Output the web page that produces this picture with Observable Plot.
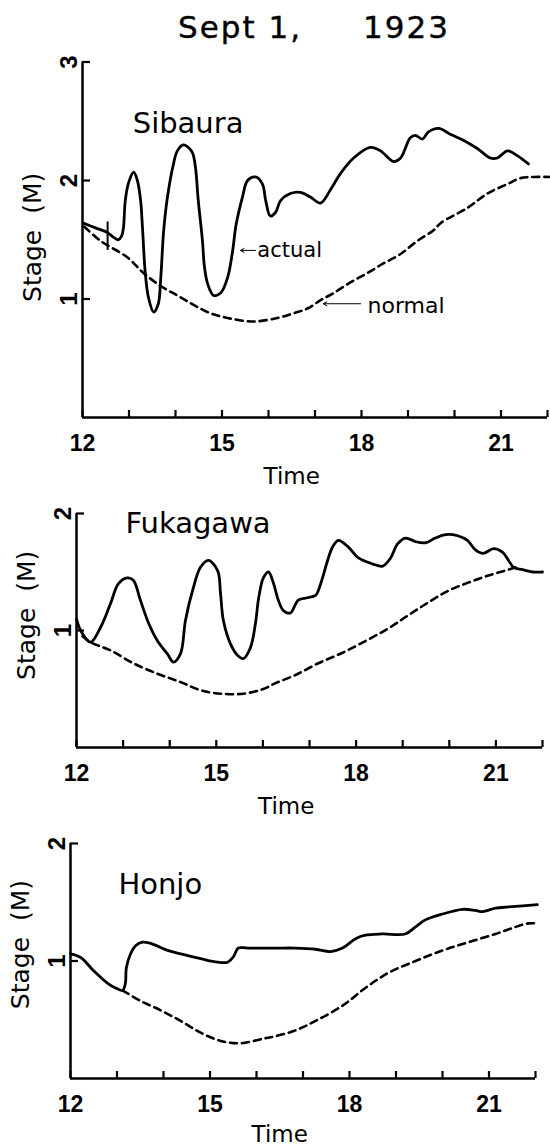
<!DOCTYPE html>
<html><head><meta charset="utf-8">
<script src="https://cdn.jsdelivr.net/npm/d3@7"></script>
<script src="https://cdn.jsdelivr.net/npm/@observablehq/plot@0.6"></script>
<style>
html,body{margin:0;padding:0;background:#fff;}
#root{position:relative;width:550px;height:1148px;overflow:hidden;font-family:"DejaVu Sans";color:#000;}
.title{position:absolute;top:12px;font-size:31px;line-height:31px;letter-spacing:2px;white-space:pre;-webkit-text-stroke:0.4px #000;}
.panel{position:absolute;left:0;}
</style></head><body><div id="root"></div>
<script>
// ---- data (time in hours, stage in metres) ----
const titleParts = ["Sept 1,", "1923"];
const hourTicks = [12, 13, 14, 15, 16, 17, 18, 19, 20, 21, 22];
const timeLabels = [12, 15, 18, 21];
const sibauraYTicks = [1, 2, 3];
const lowerYTicks = [1, 2];
const stations = ["Sibaura", "Fukagawa", "Honjo"];
const annotations = ["actual", "normal"];

const sibauraActual = [[12.02,1.64],[12.28,1.60],[12.54,1.56],[12.67,1.52],[12.77,1.50],[12.84,1.53],[12.88,1.60],[12.92,1.83],[12.99,1.98],[13.10,2.07],[13.18,2.00],[13.25,1.83],[13.29,1.60],[13.35,1.22],[13.42,1.01],[13.53,0.89],[13.63,0.96],[13.68,1.16],[13.74,1.55],[13.79,1.75],[13.85,1.92],[13.94,2.11],[14.04,2.25],[14.17,2.30],[14.30,2.27],[14.37,2.23],[14.43,2.11],[14.49,1.83],[14.58,1.49],[14.62,1.28],[14.69,1.13],[14.82,1.03],[14.97,1.05],[15.12,1.18],[15.23,1.41],[15.30,1.62],[15.44,1.86],[15.55,2.00],[15.72,2.03],[15.87,1.97],[15.94,1.83],[16.04,1.70],[16.15,1.73],[16.26,1.83],[16.47,1.89],[16.69,1.90],[16.90,1.86],[17.12,1.81],[17.33,1.92],[17.55,2.06],[17.83,2.19],[18.19,2.28],[18.41,2.25],[18.69,2.16],[18.84,2.19],[19.05,2.36],[19.16,2.38],[19.31,2.35],[19.44,2.41],[19.66,2.44],[19.91,2.39],[20.19,2.34],[20.49,2.27],[20.77,2.19],[20.92,2.19],[21.14,2.25],[21.35,2.21],[21.59,2.14]];
const sibauraNormal = [[12.04,1.61],[12.39,1.49],[12.97,1.35],[13.31,1.22],[13.68,1.11],[14.04,1.03],[14.39,0.95],[14.75,0.88],[15.12,0.84],[15.66,0.81],[16.19,0.84],[16.54,0.88],[16.84,0.92],[17.12,0.99],[17.40,1.05],[17.76,1.14],[18.13,1.22],[18.47,1.30],[18.84,1.38],[19.20,1.49],[19.55,1.58],[19.70,1.64],[20.28,1.77],[20.71,1.89],[21.14,1.97],[21.42,2.02],[21.70,2.03],[22.06,2.03]];
const sibauraMarker = [[12.54, 1.41, 1.65]];

const fukagawaActual = [[12.00,1.10],[12.09,1.00],[12.30,0.90],[12.52,1.03],[12.73,1.23],[12.90,1.40],[13.09,1.45],[13.22,1.43],[13.37,1.26],[13.55,1.06],[13.74,0.91],[13.95,0.80],[14.08,0.73],[14.23,0.80],[14.34,1.09],[14.49,1.34],[14.66,1.54],[14.83,1.60],[15.03,1.51],[15.09,1.32],[15.15,1.09],[15.30,0.89],[15.45,0.79],[15.58,0.76],[15.73,0.85],[15.84,1.06],[15.91,1.28],[16.01,1.45],[16.12,1.50],[16.23,1.40],[16.33,1.26],[16.44,1.17],[16.59,1.15],[16.76,1.26],[16.96,1.28],[17.13,1.30],[17.24,1.40],[17.39,1.60],[17.49,1.71],[17.62,1.77],[17.84,1.71],[18.05,1.62],[18.35,1.57],[18.57,1.55],[18.74,1.62],[18.89,1.74],[19.06,1.79],[19.27,1.76],[19.49,1.75],[19.70,1.79],[19.92,1.82],[20.18,1.81],[20.39,1.77],[20.56,1.69],[20.73,1.66],[20.95,1.70],[21.14,1.67],[21.27,1.60],[21.38,1.54],[21.57,1.52],[21.79,1.50],[22.00,1.50]];
const fukagawaNormal = [[12.13,0.95],[12.30,0.90],[12.73,0.83],[13.22,0.72],[13.74,0.63],[14.23,0.56],[14.66,0.49],[15.09,0.46],[15.58,0.46],[16.01,0.50],[16.27,0.55],[16.70,0.62],[17.19,0.72],[17.71,0.81],[18.20,0.91],[18.70,1.02],[19.12,1.13],[19.55,1.24],[19.98,1.34],[20.41,1.41],[20.84,1.47],[21.27,1.52],[21.42,1.54]];

const honjoActual = [[12.00,1.06],[12.22,1.03],[12.49,0.92],[12.80,0.81],[12.97,0.77],[13.12,0.75],[13.18,0.81],[13.20,0.94],[13.29,1.06],[13.40,1.13],[13.55,1.16],[13.72,1.15],[14.09,1.09],[14.37,1.06],[14.80,1.02],[15.16,0.99],[15.38,0.99],[15.51,1.04],[15.61,1.11],[15.81,1.11],[16.41,1.11],[16.84,1.11],[17.27,1.10],[17.59,1.08],[17.85,1.11],[18.13,1.19],[18.34,1.22],[18.71,1.23],[19.20,1.23],[19.42,1.29],[19.63,1.35],[20.00,1.40],[20.43,1.44],[20.71,1.43],[20.86,1.42],[21.14,1.45],[21.42,1.46],[21.72,1.47],[22.04,1.48]];
const honjoNormal = [[13.12,0.75],[13.51,0.66],[13.94,0.58],[14.37,0.49],[14.80,0.39],[15.23,0.32],[15.66,0.30],[16.15,0.34],[16.41,0.36],[16.84,0.41],[17.27,0.49],[17.85,0.62],[18.34,0.77],[18.84,0.90],[19.42,1.00],[20.00,1.09],[20.56,1.16],[21.14,1.23],[21.57,1.29],[21.85,1.32],[22.06,1.32]];

// ---- page ----
const root = document.getElementById("root");
const t1 = document.createElement("div"); t1.className = "title"; t1.style.left = "178px"; t1.textContent = titleParts[0]; root.appendChild(t1);
const t2 = document.createElement("div"); t2.className = "title"; t2.style.left = "363px"; t2.textContent = titleParts[1]; root.appendChild(t2);

const X = d => d[0], Y = d => d[1];
function panel(cfg) {
  const innerH = cfg.height - cfg.mt - cfg.mb;
  const innerW = 550 - cfg.ml - cfg.mr;
  const marks = [
    Plot.ruleY([0], {strokeWidth: 2.5}),
    Plot.ruleX([12], {strokeWidth: 2.5}),
    Plot.ruleX(hourTicks, {x: d => d, insetTop: innerH - 7, strokeWidth: 2.2}),
    Plot.ruleY(cfg.yTicks, {y: d => d, insetRight: innerW - 8, strokeWidth: 2.2}),
    Plot.axisX({ticks: timeLabels, tickSize: 0, tickPadding: 17, tickFormat: d3.format("d"), fontSize: 23, fontWeight: "bold", fontFamily: "Liberation Sans", label: null}),
    Plot.axisY({ticks: cfg.yTicks, tickSize: 0, tickPadding: 6, tickRotate: -90, tickFormat: d3.format("d"), fontSize: 24, fontWeight: "bold", fontFamily: "Liberation Sans", label: null}),
    Plot.line(cfg.normal, {x: X, y: Y, curve: "catmull-rom", strokeWidth: 2.6, strokeDasharray: "7,5"}),
    Plot.line(cfg.actual, {x: X, y: Y, curve: "catmull-rom", strokeWidth: 2.8, strokeLinejoin: "round"}),
    Plot.text([cfg.name], {x: cfg.nameAt[0], y: cfg.nameAt[1], textAnchor: "start", fontSize: 29}),
    Plot.text(["Time"], {x: 16.5, frameAnchor: "bottom", dy: cfg.timeDy, fontSize: 23, lineAnchor: "middle"}),
    Plot.text(["Stage  (M)"], {y: cfg.labelAt, frameAnchor: "left", textAnchor: "middle", lineAnchor: "middle", rotate: -90, dx: -50, fontSize: 25}),
    ...(cfg.extra || [])
  ];
  const svg = Plot.plot({
    width: 550, height: cfg.height,
    marginTop: cfg.mt, marginBottom: cfg.mb, marginLeft: cfg.ml, marginRight: cfg.mr,
    x: {domain: [12, 22], axis: null},
    y: {domain: [0, cfg.yMax], axis: null},
    style: {fontFamily: "DejaVu Sans", color: "#000", background: "none", overflow: "visible"},
    marks
  });
  svg.classList.add("panel");
  svg.style.top = cfg.top + "px";
  root.appendChild(svg);
}

panel({top: 40, height: 450, mt: 21.5, mb: 73, ml: 82, mr: 3, yMax: 3, yTicks: sibauraYTicks, timeDy: 59,
  actual: sibauraActual, normal: sibauraNormal, name: stations[0], nameAt: [13.08, 2.48], labelAt: 1.52,
  extra: [
    Plot.ruleX(sibauraMarker, {x: d => d[0], y1: d => d[1], y2: d => d[2], strokeWidth: 2}),
    Plot.arrow([[15.72, 1.41, 15.40, 1.41]], {x1: d => d[0], y1: d => d[1], x2: d => d[2], y2: d => d[3], strokeWidth: 1, headLength: 6}),
    Plot.text([annotations[0]], {x: 15.76, y: 1.41, textAnchor: "start", fontSize: 21}),
    Plot.arrow([[17.98, 0.96, 17.18, 0.96]], {x1: d => d[0], y1: d => d[1], x2: d => d[2], y2: d => d[3], strokeWidth: 1, headLength: 6}),
    Plot.text([annotations[1]], {x: 18.13, y: 0.945, textAnchor: "start", fontSize: 22})
  ]});
panel({top: 490, height: 330, mt: 23, mb: 73, ml: 76, mr: 8, yMax: 2, yTicks: lowerYTicks, timeDy: 59,
  actual: fukagawaActual, normal: fukagawaNormal, name: stations[1], nameAt: [13.05, 1.91], labelAt: 1.13});
panel({top: 820, height: 328, mt: 23, mb: 70, ml: 70, mr: 15, yMax: 2, yTicks: lowerYTicks, timeDy: 56,
  actual: honjoActual, normal: honjoNormal, name: stations[2], nameAt: [13.03, 1.65], labelAt: 1.14});
</script>
</body></html>
